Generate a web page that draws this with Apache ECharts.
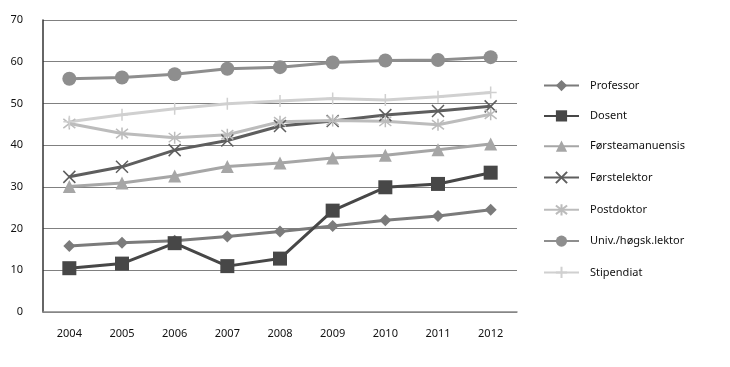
<!DOCTYPE html>
<html><head><meta charset="utf-8">
<script src="https://cdn.jsdelivr.net/npm/echarts@6/dist/echarts.min.js"></script>
<style>html,body{margin:0;padding:0;background:#fff}#c{width:730px;height:367px}</style>
</head><body><div id="c"></div>
<script>
const years = ['2004','2005','2006','2007','2008','2009','2010','2011','2012'];
const professor = [15.8,16.6,17.1,18.1,19.3,20.6,22.0,23.0,24.5];
const dosent = [10.5,11.6,16.5,11.0,12.8,24.3,29.9,30.7,33.4];
const forsteamanuensis = [30.1,30.9,32.6,34.9,35.7,36.9,37.6,38.9,40.3];
const forstelektor = [32.4,34.8,38.8,41.1,44.6,45.8,47.2,48.2,49.3];
const postdoktor = [45.2,42.8,41.8,42.5,45.6,45.9,45.7,44.9,47.4];
const univlektor = [55.9,56.2,57.0,58.3,58.7,59.8,60.3,60.4,61.1];
const stipendiat = [45.6,47.3,48.7,49.9,50.6,51.2,50.8,51.6,52.6];
const yTicks = [0,10,20,30,40,50,60,70];

const F = 'Noto Sans';
const xSym = 'path://M0,0L10,10M10,0L0,10';
const starSym = 'path://M0,0L10,10M10,0L0,10M5,-1.5L5,11.5';
const plusSym = 'path://M0,5L10,5M5,0L5,10';

function S(name, data, color, symbol, size, stroke) {
  const s = {
    name, type: 'line', data, symbol, symbolSize: size,
    lineStyle: {color, width: 3},
    itemStyle: {color},
    emphasis: {disabled: true}
  };
  if (stroke) {
    s.itemStyle = {color: 'rgba(0,0,0,0)', borderColor: color, borderWidth: 1.5};
  }
  return s;
}

const chart = echarts.init(document.getElementById('c'), null, {renderer: 'canvas'});
chart.setOption({
  animation: false,
  textStyle: {fontFamily: F},
  grid: {left: 43, right: 213, top: 20, bottom: 55, containLabel: false},
  xAxis: {
    type: 'category', data: years, boundaryGap: true,
    axisLine: {lineStyle: {color: '#888', width: 1.5}},
    axisTick: {length: 5, lineStyle: {color: '#555'}},
    axisLabel: {color: '#111', fontSize: 11, fontFamily: F, margin: 16}
  },
  yAxis: {
    type: 'value', min: yTicks[0], max: yTicks[yTicks.length-1], interval: 10,
    axisLine: {show: true, lineStyle: {color: '#333', width: 1.5}},
    axisTick: {show: false},
    splitLine: {lineStyle: {color: '#808080', width: 1.2}},
    axisLabel: {color: '#111', fontSize: 11, fontFamily: F, margin: 20}
  },
  legend: {
    orient: 'vertical', left: 543, top: 80, padding: 0,
    itemWidth: 35, itemHeight: 14, itemGap: 19.1,
    textStyle: {fontSize: 11, fontFamily: F, color: '#111', padding: [0,0,0,6]},
    data: ['Professor','Dosent','Førsteamanuensis','Førstelektor','Postdoktor','Univ./høgsk.lektor','Stipendiat']
  },
  series: [
    S('Professor', professor, '#7b7b7b', 'diamond', 12),
    S('Dosent', dosent, '#474747', 'rect', 14),
    S('Førsteamanuensis', forsteamanuensis, '#a6a6a6', 'triangle', 13),
    S('Førstelektor', forstelektor, '#5e5e5e', xSym, 12, true),
    S('Postdoktor', postdoktor, '#bcbcbc', starSym, 12, true),
    S('Univ./høgsk.lektor', univlektor, '#8e8e8e', 'circle', 14),
    S('Stipendiat', stipendiat, '#d0d0d0', plusSym, 12, true)
  ]
});
</script></body></html>
